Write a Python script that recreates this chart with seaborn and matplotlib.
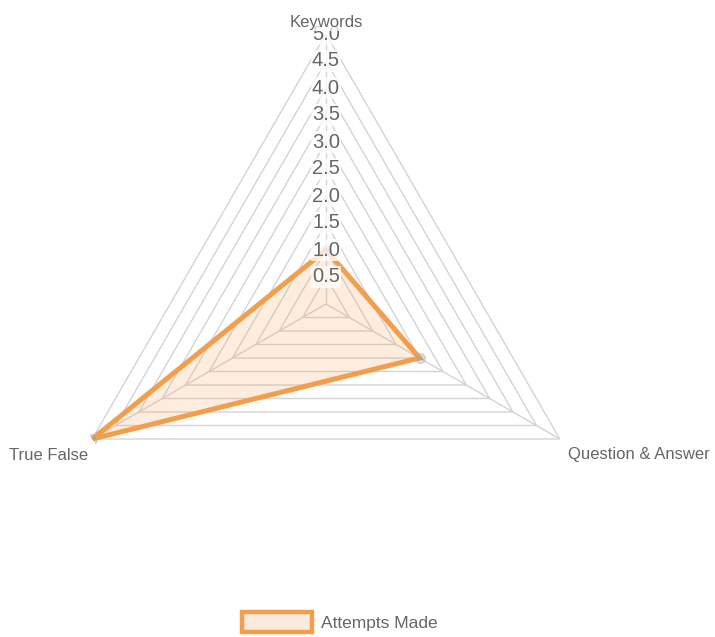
import numpy as np
import pandas as pd
import matplotlib
matplotlib.use("Agg")
import matplotlib.pyplot as plt
from matplotlib.patches import Patch
import seaborn as sns

# ---- data ----
categories = ["Keywords", "Question & Answer", "True False"]
values = [1.0, 2.0, 5.0]
series_name = "Attempts Made"
tick_values = [0.5, 1.0, 1.5, 2.0, 2.5, 3.0, 3.5, 4.0, 4.5, 5.0]
tick_labels = ["0.5", "1.0", "1.5", "2.0", "2.5", "3.0", "3.5", "4.0", "4.5", "5.0"]
r_max = 5.0

sns.set_theme(style="white")
plt.rcParams["font.family"] = ["Liberation Sans", "DejaVu Sans"]

LINE = "#F29E4C"
FILL = (242 / 255, 158 / 255, 76 / 255, 0.18)
GRID = "#d4d4d4"
TEXT = "#666666"

W, H = 715, 637
fig = plt.figure(figsize=(W / 100, H / 100), dpi=100)
cx, cy, rad = 326, 304, 270
ax = fig.add_axes([(cx - rad) / W, (H - cy - rad) / H, 2 * rad / W, 2 * rad / H],
                  projection="polar")
ax.set_theta_offset(np.pi / 2)
ax.set_theta_direction(-1)
ax.set_ylim(0, r_max)
ax.grid(False)
ax.spines["polar"].set_visible(False)
ax.set_xticks([])
ax.set_yticks([])
ax.patch.set_alpha(0)

n = len(categories)
thetas = np.arange(n) * 2 * np.pi / n
theta_closed = np.append(thetas, 2 * np.pi)

# polygon grid
for r in tick_values:
    ax.plot(theta_closed, [r] * (n + 1), color=GRID, lw=1.0, zorder=1)
for t in thetas:
    ax.plot([t, t], [0, r_max], color=GRID, lw=1.0, zorder=1)

# data
df = pd.DataFrame({"theta": theta_closed, "value": values + values[:1]})
ax.fill(df["theta"], df["value"], color=FILL, zorder=2, lw=0)
sns.lineplot(data=df, x="theta", y="value", sort=False, ax=ax, color=LINE,
             lw=3.6, legend=False, zorder=3)
for l in ax.lines[-1:]:
    l.set_solid_joinstyle("miter")
ax.plot(thetas, values, ls="none", marker="o", ms=7,
        mfc=(0.6, 0.6, 0.6, 0.3), mec=(0.7, 0.7, 0.7, 0.5), mew=1, zorder=4)
ax.set_xlabel("")
ax.set_ylabel("")
ax.set_ylim(0, r_max)

# tick labels along top spoke
for r, lab in zip(tick_values, tick_labels):
    ax.text(0, r, lab, ha="center", va="center", fontsize=14.5, color=TEXT, zorder=5,
            bbox=dict(boxstyle="square,pad=0.05", fc=(1, 1, 1, 0.75), ec="none"))

# category labels
offsets = [((0, 8.5), "center", "center"),
           ((6, -11), "left", "center"),
           ((-3, -12), "right", "center")]
for t, lab, (off, ha, va) in zip(thetas, categories, offsets):
    ax.annotate(lab, xy=(t, r_max), xytext=off, textcoords="offset points",
                ha=ha, va=va, fontsize=12, color=TEXT, zorder=6, annotation_clip=False,
                bbox=dict(boxstyle="square,pad=0.05", fc=(1, 1, 1, 0.75), ec="none")
                if t == 0 else None)

# legend
handle = Patch(facecolor="#FCEBDD", edgecolor=LINE, lw=3.2, label=series_name)
fig.legend(handles=[handle], loc="center", bbox_to_anchor=(340 / W, 15 / H),
           frameon=False, fontsize=12.5, handlelength=4.0, handleheight=1.35,
           handletextpad=0.55, labelcolor=TEXT)

fig.savefig("out.png", dpi=100)
